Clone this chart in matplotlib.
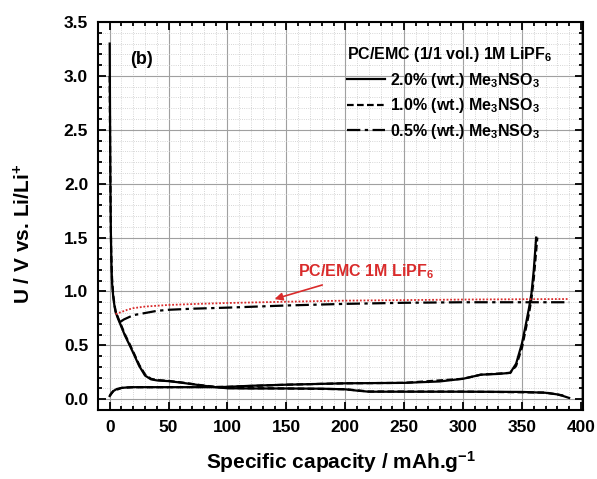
import matplotlib.pyplot as plt
from matplotlib.ticker import MultipleLocator

plt.rcParams['font.family'] = ['Liberation Sans', 'DejaVu Sans']
plt.rcParams['mathtext.fontset'] = 'custom'
plt.rcParams['mathtext.rm'] = 'Liberation Sans:bold'
plt.rcParams['mathtext.bf'] = 'Liberation Sans:bold'
plt.rcParams['mathtext.default'] = 'bf'

# 2.0 % additive: lithiation and delithiation
x_dis_20 = [0, 0.3, 0.6, 1, 1.5, 2, 3, 4, 5, 7, 10, 13, 17, 20, 25, 30, 35, 40, 50, 60, 70,
            80, 90, 100, 120, 150, 180, 200, 210, 220, 250, 300, 350, 370, 380, 385, 390]
y_dis_20 = [3.3, 2.6, 2.0, 1.55, 1.25, 1.08, 0.95, 0.87, 0.81, 0.75, 0.67, 0.59, 0.5, 0.43,
            0.31, 0.22, 0.185, 0.175, 0.168, 0.155, 0.14, 0.125, 0.112, 0.102, 0.1, 0.1,
            0.098, 0.092, 0.08, 0.07, 0.07, 0.07, 0.068, 0.06, 0.045, 0.03, 0.012]
x_chg_20 = [0, 1, 3, 6, 10, 15, 20, 30, 50, 70, 90, 100, 120, 150, 200, 250, 280, 300,
            310, 315, 330, 340, 345, 350, 353, 356, 358, 360, 362]
y_chg_20 = [0.03, 0.05, 0.075, 0.095, 0.105, 0.11, 0.112, 0.112, 0.112, 0.112, 0.112,
            0.115, 0.125, 0.135, 0.148, 0.152, 0.165, 0.19, 0.215, 0.228, 0.235, 0.245,
            0.33, 0.52, 0.68, 0.85, 0.98, 1.2, 1.5]

# 1.0 % additive
x_dis_10 = [0, 0.4, 0.8, 1.2, 2, 3, 4, 5, 7, 10, 13, 17, 20, 25, 30, 35, 40, 50, 60, 70,
            80, 90, 100, 150, 200, 220, 300, 370, 385]
y_dis_10 = [3.0, 2.3, 1.75, 1.4, 1.12, 0.97, 0.88, 0.82, 0.76, 0.68, 0.6, 0.51, 0.44,
            0.32, 0.23, 0.19, 0.178, 0.17, 0.157, 0.142, 0.127, 0.114, 0.104, 0.1, 0.093,
            0.072, 0.071, 0.062, 0.035]
x_chg_10 = [0, 3, 10, 20, 50, 100, 150, 200, 250, 300, 315, 340, 345, 350, 353, 356,
            358, 360, 363]
y_chg_10 = [0.03, 0.075, 0.105, 0.112, 0.112, 0.115, 0.135, 0.148, 0.152, 0.19, 0.228,
            0.245, 0.31, 0.48, 0.64, 0.8, 0.93, 1.12, 1.5]

# 0.5 % additive
x_05 = [8, 12, 20, 30, 40, 50, 70, 100, 150, 200, 250, 300, 350, 390]
y_05 = [0.71, 0.74, 0.78, 0.8, 0.82, 0.83, 0.84, 0.85, 0.87, 0.885, 0.895, 0.9, 0.9, 0.9]

# additive-free electrolyte
x_ref = [5, 10, 15, 20, 30, 50, 75, 100, 150, 200, 250, 300, 350, 390]
y_ref = [0.79, 0.81, 0.83, 0.845, 0.86, 0.875, 0.885, 0.893, 0.905, 0.915, 0.92, 0.925,
         0.928, 0.93]

legend_labels = ['2.0% (wt.) Me$_3$NSO$_3$', '1.0% (wt.) Me$_3$NSO$_3$',
                 '0.5% (wt.) Me$_3$NSO$_3$']

red = '#d92b2b'
fig = plt.figure(figsize=(5.97, 4.79), dpi=100)
ax = fig.add_axes([0.164, 0.144, 0.813, 0.81])

ax.plot(x_dis_20, y_dis_20, color='black', lw=1.6, label=legend_labels[0])
ax.plot(x_chg_20, y_chg_20, color='black', lw=1.6)
ax.plot(x_dis_10, y_dis_10, color='black', lw=1.6, ls=(0, (3, 1.5)), label=legend_labels[1])
ax.plot(x_chg_10, y_chg_10, color='black', lw=1.6, ls=(0, (3, 1.5)))
ax.plot(x_05, y_05, color='black', lw=1.6, ls=(0, (6, 2, 1.5, 2)), label=legend_labels[2])
ax.plot(x_ref, y_ref, color=red, lw=1.3, ls=(0, (1, 1)))

ax.set_xlim(-10, 402)
ax.set_ylim(-0.1, 3.5)
ax.xaxis.set_major_locator(MultipleLocator(50))
ax.xaxis.set_minor_locator(MultipleLocator(10))
ax.yaxis.set_major_locator(MultipleLocator(0.5))
ax.yaxis.set_minor_locator(MultipleLocator(0.1))
ax.grid(which='major', color='#a0a0a0', lw=0.8)
ax.grid(which='minor', color='#c8c8c8', lw=0.6, ls=':')
ax.set_axisbelow(True)
ax.tick_params(which='both', direction='in', top=True, right=True, width=1.3)
ax.tick_params(which='major', length=6, labelsize=12.5, pad=7)
ax.tick_params(which='minor', length=3)
for lab in ax.get_xticklabels() + ax.get_yticklabels():
    lab.set_fontweight('bold')
for sp in ax.spines.values():
    sp.set_linewidth(1.5)

ax.set_xlabel('Specific capacity / mAh.g$^{-1}$', fontsize=15, fontweight='bold', labelpad=10)
ax.set_ylabel('U / V vs. Li/Li$^{+}$', fontsize=15, fontweight='bold')
ax.yaxis.set_label_coords(-0.13, 0.455)

ax.text(17, 3.15, '(b)', fontsize=13, fontweight='bold', va='center')

leg = ax.legend(loc='upper left', bbox_to_anchor=(0.49, 0.97), frameon=False,
                borderpad=0.2, handlelength=2.4, handletextpad=0.3, labelspacing=0.42,
                prop={'weight': 'bold', 'size': 11.5}, alignment='left',
                title='PC/EMC (1/1 vol.) 1M LiPF$_6$',
                title_fontproperties={'weight': 'bold', 'size': 11.5})

ax.annotate('PC/EMC 1M LiPF$_6$', xy=(140, 0.93), xytext=(160, 1.18),
            color=red, fontsize=11.5, fontweight='bold', va='center',
            arrowprops=dict(arrowstyle='-|>', color=red, lw=1.2, shrinkA=2, shrinkB=0))

fig.savefig('out.png', dpi=100)
